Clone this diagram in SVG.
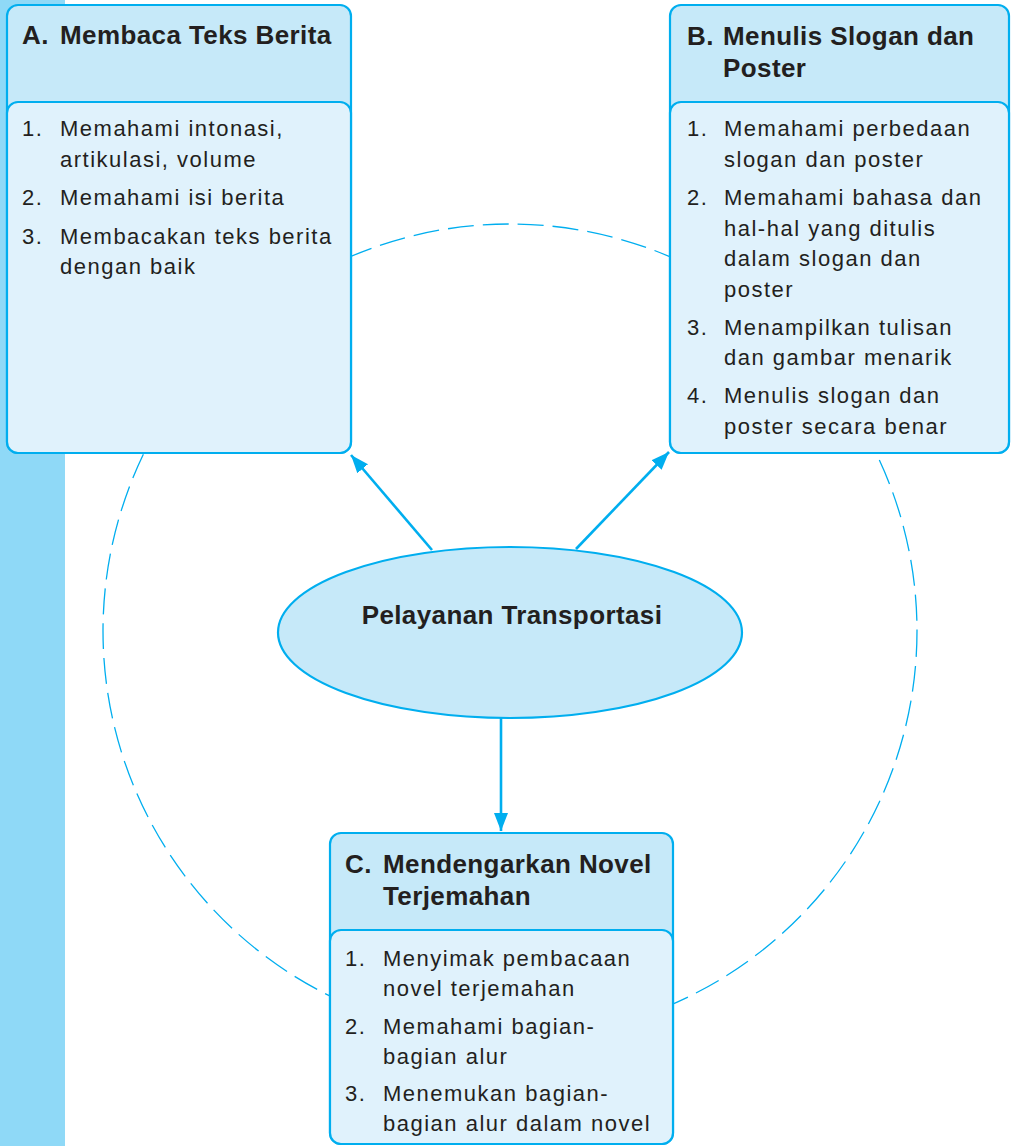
<svg xmlns="http://www.w3.org/2000/svg" width="1011" height="1146" viewBox="0 0 1011 1146">
<style>
.hdr{fill:#C6E9F9;stroke:#00AEEF;stroke-width:2.2}
.bdy{fill:#E0F2FC;stroke:#00AEEF;stroke-width:2.2}
.t{font-family:"Liberation Sans",Arial,sans-serif;font-size:26px;font-weight:bold;fill:#231F20;letter-spacing:0.4px}
.b{font-family:"Liberation Sans",Arial,sans-serif;font-size:22px;fill:#231F20;letter-spacing:1.5px}
.ar{stroke:#00AEEF;stroke-width:2.6;fill:none;marker-end:url(#ah)}
</style>
<defs>
<marker id="ah" markerUnits="userSpaceOnUse" markerWidth="20" markerHeight="16" viewBox="0 0 20 16" refX="18" refY="8" orient="auto">
<path d="M0,1 L18,8 L0,15 Z" fill="#00AEEF"/>
</marker>
</defs>
<rect x="0" y="0" width="65" height="1146" fill="#8FD9F7"/>
<g id="ring">
<circle cx="510" cy="631" r="407" fill="none" stroke="#00AEEF" stroke-width="1.3" stroke-dasharray="26 9"/>
</g>
<g id="nodeA">
<rect class="hdr" x="7" y="5" width="344" height="448" rx="11"/>
<rect class="bdy" x="7" y="102" width="344" height="351" rx="11"/>
<text class="t" x="22" y="44">A.</text>
<text class="t" x="60" y="44">Membaca Teks Berita</text>
<text class="b" x="22" y="136">1.</text>
<text class="b" x="60" y="136">Memahami intonasi,</text>
<text class="b" x="60" y="167">artikulasi, volume</text>
<text class="b" x="22" y="205">2.</text>
<text class="b" x="60" y="205">Memahami isi berita</text>
<text class="b" x="22" y="244">3.</text>
<text class="b" x="60" y="244">Membacakan teks berita</text>
<text class="b" x="60" y="274">dengan baik</text>
</g>
<g id="nodeB">
<rect class="hdr" x="670" y="5" width="339" height="448" rx="11"/>
<rect class="bdy" x="670" y="102" width="339" height="351" rx="11"/>
<text class="t" x="687" y="45">B.</text>
<text class="t" x="723" y="45">Menulis Slogan dan</text>
<text class="t" x="723" y="77">Poster</text>
<text class="b" x="687" y="136">1.</text>
<text class="b" x="724" y="136">Memahami perbedaan</text>
<text class="b" x="724" y="167">slogan dan poster</text>
<text class="b" x="687" y="205">2.</text>
<text class="b" x="724" y="205">Memahami bahasa dan</text>
<text class="b" x="724" y="236">hal-hal yang ditulis</text>
<text class="b" x="724" y="266">dalam slogan dan</text>
<text class="b" x="724" y="297">poster</text>
<text class="b" x="687" y="335">3.</text>
<text class="b" x="724" y="335">Menampilkan tulisan</text>
<text class="b" x="724" y="365">dan gambar menarik</text>
<text class="b" x="687" y="403">4.</text>
<text class="b" x="724" y="403">Menulis slogan dan</text>
<text class="b" x="724" y="434">poster secara benar</text>
</g>
<g id="nodeC">
<rect class="hdr" x="330" y="833" width="343" height="311" rx="11"/>
<rect class="bdy" x="330" y="930" width="343" height="214" rx="11"/>
<text class="t" x="345" y="873">C.</text>
<text class="t" x="383" y="873">Mendengarkan Novel</text>
<text class="t" x="383" y="905">Terjemahan</text>
<text class="b" x="345" y="966">1.</text>
<text class="b" x="383" y="966">Menyimak pembacaan</text>
<text class="b" x="383" y="996">novel terjemahan</text>
<text class="b" x="345" y="1034">2.</text>
<text class="b" x="383" y="1034">Memahami bagian-</text>
<text class="b" x="383" y="1064">bagian alur</text>
<text class="b" x="345" y="1101">3.</text>
<text class="b" x="383" y="1101">Menemukan bagian-</text>
<text class="b" x="383" y="1131">bagian alur dalam novel</text>
</g>
<g id="center">
<ellipse cx="510" cy="632.5" rx="232" ry="85.5" fill="#C6E9F9" stroke="#00AEEF" stroke-width="2.2"/>
<text class="t" x="512" y="624" text-anchor="middle">Pelayanan Transportasi</text>
</g>
<g id="connectors">
<line class="ar" x1="432" y1="550" x2="351" y2="455"/>
<line class="ar" x1="576" y1="549" x2="669" y2="452"/>
<line class="ar" x1="501" y1="718" x2="501" y2="831"/>
</g>
</svg>
